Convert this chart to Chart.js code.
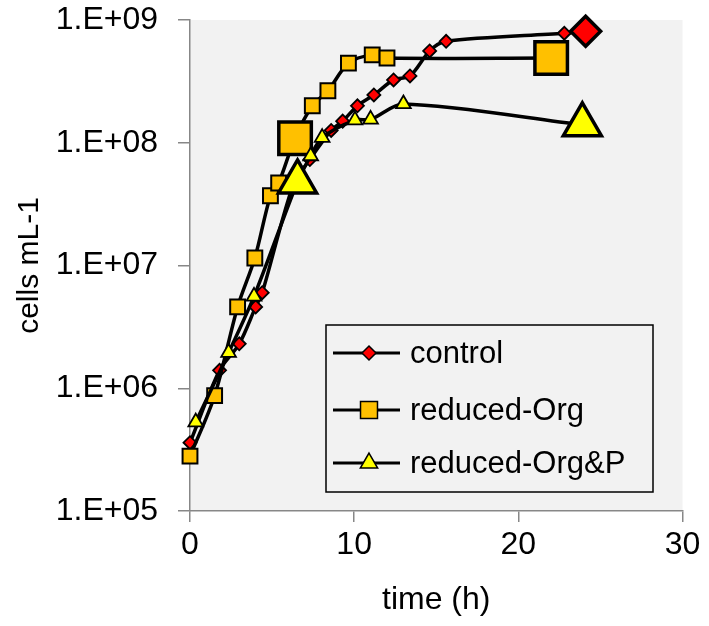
<!DOCTYPE html>
<html>
<head>
<meta charset="utf-8">
<script src="https://cdn.jsdelivr.net/npm/chart.js@4/dist/chart.umd.min.js"></script>
<style>
  html, body { margin: 0; padding: 0; background: #fff; }
  #growth_chart { display: block; }
</style>
</head>
<body>
<canvas id="growth_chart" width="709" height="626"></canvas>
<script>
// values (time in h, cells per mL)
var seriesNames = ['control', 'reduced-Org', 'reduced-Org&P'];

var controlTime  = [0, 1.8, 3.0, 4.0, 4.4, 6.3, 7.3, 8.6, 9.3, 10.2, 11.2, 12.4, 13.4, 14.6, 15.6, 22.8, 24.1];
var controlCells = [3.6e5, 1.4e6, 2.3e6, 4.6e6, 6.0e6, 4.6e7, 7.3e7, 1.26e8, 1.5e8, 2.0e8, 2.45e8, 3.25e8, 3.5e8, 5.6e8, 6.7e8, 7.8e8, 8.1e8];

var orgTime  = [0, 1.5, 2.9, 3.95, 4.9, 5.4, 6.4, 7.45, 8.4, 9.65, 11.1, 12.0, 22.0];
var orgCells = [2.8e5, 8.7e5, 4.6e6, 1.15e7, 3.7e7, 4.7e7, 1.09e8, 2.0e8, 2.65e8, 4.45e8, 5.2e8, 4.9e8, 4.9e8];

var orgPTime  = [0.35, 2.35, 3.9, 6.55, 7.35, 8.05, 10.05, 11.0, 13.0, 23.9];
var orgPCells = [5.3e5, 1.95e6, 5.6e6, 4.8e7, 7.8e7, 1.1e8, 1.53e8, 1.55e8, 2.07e8, 1.4e8];

var xTicks = [0, 10, 20, 30];
var yTickValues = [1e5, 1e6, 1e7, 1e8, 1e9];
var yTickLabels = ['1.E+05', '1.E+06', '1.E+07', '1.E+08', '1.E+09'];

var FONT = 'Arial, "Liberation Sans", sans-serif';
var PLOT_TOP = 20;

function toPoints(xs, ys) {
  return xs.map(function (x, i) { return { x: x, y: ys[i] }; });
}
// last point of every series (and the 6-7 h point of two of them) is drawn big
function sizes(n, small, big, bigIdx) {
  return Array.from({ length: n }, function (_, i) { return bigIdx.indexOf(i) >= 0 ? big : small; });
}

// chart.js leaves a few px more than asked above the plot, pull the top up
var pinTop = {
  id: 'pinTop',
  afterLayout: function (chart) {
    var a = chart.chartArea, ys = chart.scales.y;
    a.top = PLOT_TOP;
    a.height = a.bottom - a.top;
    ys.top = PLOT_TOP;
    ys.height = ys.bottom - ys.top;
    ys.configure();
  }
};

var plotBg = {
  id: 'plotBg',
  beforeDraw: function (chart) {
    var a = chart.chartArea, ctx = chart.ctx;
    ctx.save();
    ctx.fillStyle = '#f2f2f2';
    ctx.fillRect(a.left, a.top, a.right - a.left, a.bottom - a.top);
    ctx.restore();
  }
};

// legend box drawn inside the plot, like the original
var boxLegend = {
  id: 'boxLegend',
  afterDraw: function (chart) {
    var a = chart.chartArea, ctx = chart.ctx;
    var left = a.left + 136, top = a.top + 305, w = 327, h = 167;
    ctx.save();
    ctx.strokeStyle = '#000';
    ctx.lineWidth = 1.5;
    ctx.strokeRect(left, top, w, h);
    var rowY = [top + 28, top + 85, top + 138];
    chart.data.datasets.forEach(function (ds, i) {
      var y = rowY[i];
      ctx.strokeStyle = '#000';
      ctx.lineWidth = 3;
      ctx.beginPath();
      ctx.moveTo(left + 7, y);
      ctx.lineTo(left + 74, y);
      ctx.stroke();
      ctx.fillStyle = ds.pointBackgroundColor;
      ctx.strokeStyle = '#000';
      ctx.lineWidth = 1.5;
      Chart.helpers.drawPoint(ctx, {
        pointStyle: ds.pointStyle,
        radius: ds.legendRadius,
        rotation: 0,
        borderWidth: 1.5
      }, left + 43, y);
      ctx.fillStyle = '#000';
      ctx.font = '31px ' + FONT;
      ctx.textBaseline = 'middle';
      ctx.textAlign = 'left';
      ctx.fillText(ds.label, left + 84, y + 1);
    });
    ctx.restore();
  }
};

var summary_chart = new Chart(document.getElementById('growth_chart'), {
  type: 'line',
  data: {
    datasets: [
      {
        label: seriesNames[0],
        data: toPoints(controlTime, controlCells),
        pointStyle: 'rectRot',
        pointBackgroundColor: '#ff0000',
        pointRadius: sizes(controlTime.length, 6.5, 15, [controlTime.length - 1]),
        pointBorderWidth: sizes(controlTime.length, 1.8, 3.5, [controlTime.length - 1]),
        legendRadius: 7,
        order: 3
      },
      {
        label: seriesNames[1],
        data: toPoints(orgTime, orgCells),
        pointStyle: 'rect',
        pointBackgroundColor: '#ffc000',
        pointRadius: sizes(orgTime.length, 10.5, 23, [6, orgTime.length - 1]),
        pointBorderWidth: sizes(orgTime.length, 2, 3.5, [6, orgTime.length - 1]),
        legendRadius: 12,
        order: 2
      },
      {
        label: seriesNames[2],
        data: toPoints(orgPTime, orgPCells),
        pointStyle: 'triangle',
        pointBackgroundColor: '#ffff00',
        pointRadius: sizes(orgPTime.length, 8.5, 22, [3, orgPTime.length - 1]),
        pointBorderWidth: sizes(orgPTime.length, 1.8, 3.5, [3, orgPTime.length - 1]),
        legendRadius: 10,
        order: 1
      }
    ].map(function (ds) {
      ds.borderColor = '#000';
      ds.borderWidth = 3.5;
      ds.pointBorderColor = '#000';
      ds.tension = 0.3;
      ds.clip = false;
      return ds;
    })
  },
  options: {
    responsive: false,
    devicePixelRatio: 1,
    animation: false,
    events: [],
    layout: { padding: { top: PLOT_TOP, right: 26, left: 0, bottom: 0 } },
    plugins: { legend: { display: false }, tooltip: { enabled: false } },
    scales: {
      x: {
        type: 'linear',
        min: 0,
        max: 30,
        afterBuildTicks: function (s) { s.ticks = xTicks.map(function (v) { return { value: v }; }); },
        afterFit: function (s) { s.height = 115; },
        ticks: { color: '#000', font: { size: 32, family: FONT }, padding: 4, maxRotation: 0 },
        grid: { drawOnChartArea: false, drawTicks: true, tickLength: 11, color: '#878787', lineWidth: 1.5 },
        border: { color: '#878787', width: 1.5 },
        title: { display: true, text: 'time (h)', color: '#000', font: { size: 32, family: FONT }, padding: { top: 0, bottom: 7 } }
      },
      y: {
        type: 'logarithmic',
        min: 1e5,
        max: 1e9,
        afterBuildTicks: function (s) { s.ticks = yTickValues.map(function (v) { return { value: v }; }); },
        afterFit: function (s) { s.width = 190; s.paddingTop = 0; s.paddingBottom = 0; },
        ticks: {
          color: '#000',
          font: { size: 32, family: FONT },
          padding: 20,
          callback: function (v) { return yTickLabels[yTickValues.indexOf(v)]; }
        },
        grid: { drawOnChartArea: false, drawTicks: true, tickLength: 12, color: '#878787', lineWidth: 1.5 },
        border: { color: '#878787', width: 1.5 },
        title: { display: true, text: 'cells mL-1', color: '#000', font: { size: 30, family: FONT }, padding: { top: 12, bottom: 0 } }
      }
    }
  },
  plugins: [pinTop, plotBg, boxLegend]
});
</script>
</body>
</html>
